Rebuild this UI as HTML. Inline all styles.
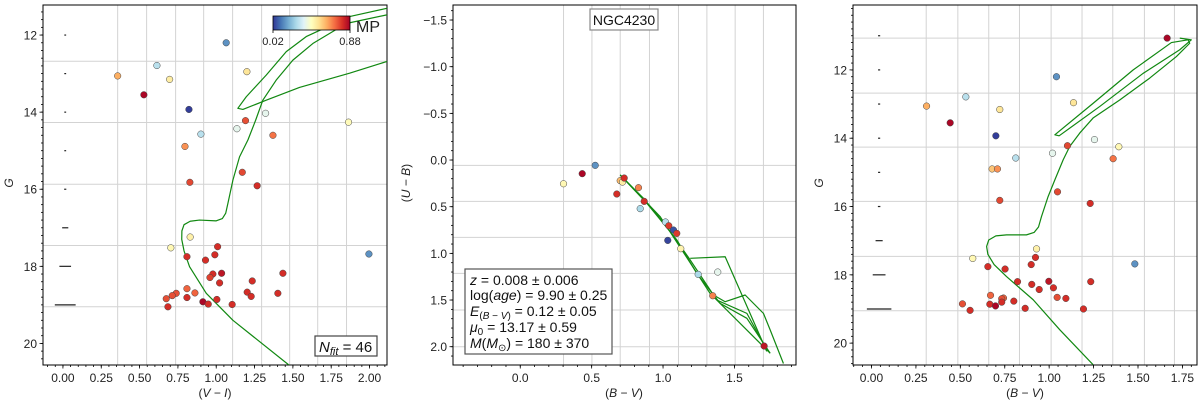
<!DOCTYPE html>
<html><head><meta charset="utf-8">
<style>
html,body{margin:0;padding:0;background:#fff;}
svg{display:block;font-family:"Liberation Sans","DejaVu Sans",sans-serif;}
</style></head>
<body>
<svg id="fig" width="1200" height="403" viewBox="0 0 1200 403" xmlns="http://www.w3.org/2000/svg">
<defs>
<linearGradient id="cmap" x1="0" x2="1" y1="0" y2="0">
<stop offset="0" stop-color="rgb(49,54,149)"/><stop offset="0.1" stop-color="rgb(69,117,180)"/>
<stop offset="0.2" stop-color="rgb(116,173,209)"/><stop offset="0.3" stop-color="rgb(171,217,233)"/>
<stop offset="0.4" stop-color="rgb(224,243,248)"/><stop offset="0.5" stop-color="rgb(255,255,191)"/>
<stop offset="0.6" stop-color="rgb(254,224,144)"/><stop offset="0.7" stop-color="rgb(253,174,97)"/>
<stop offset="0.8" stop-color="rgb(244,109,67)"/><stop offset="0.9" stop-color="rgb(215,48,39)"/>
<stop offset="1" stop-color="rgb(165,0,38)"/>
</linearGradient>
<clipPath id="clip1"><rect x="43" y="5" width="344" height="360"/></clipPath>
<clipPath id="clip2"><rect x="453" y="5" width="343" height="360"/></clipPath>
<clipPath id="clip3"><rect x="853" y="5" width="344" height="360"/></clipPath>
</defs>
</svg>
<script>
// ---------- Panel 1: G vs (V-I) ----------
const p1X = [1.065,0.613,0.357,0.696,1.2,0.528,0.822,1.322,1.191,1.863,1.135,0.9,1.37,0.796,1.17,0.828,1.267,0.83,0.704,1.009,1.996,0.809,0.93,0.991,0.978,1.035,0.959,1.022,1.235,1.435,0.809,0.861,0.739,0.713,0.674,0.809,1.202,1.228,1.402,0.913,0.948,1.004,1.104,0.685];
const p1Y = [12.2,12.79,13.06,13.15,12.95,13.55,13.93,14.03,14.22,14.26,14.43,14.57,14.6,14.89,15.56,15.82,15.91,17.24,17.52,17.49,17.68,17.75,17.84,17.7,18.2,18.18,18.29,18.43,18.38,18.18,18.58,18.69,18.7,18.76,18.84,18.81,18.67,18.78,18.7,18.92,18.98,18.86,18.99,19.05];
const p1MP = [0.15,0.3,0.62,0.5,0.52,0.87,0.03,0.38,0.75,0.46,0.38,0.3,0.7,0.66,0.76,0.76,0.8,0.49,0.47,0.8,0.15,0.8,0.8,0.8,0.8,0.84,0.77,0.8,0.8,0.8,0.72,0.72,0.75,0.75,0.75,0.8,0.8,0.8,0.8,0.87,0.8,0.8,0.8,0.8];
const p1IsoX = [1.474,1.109,0.935,0.826,0.79,0.775,0.776,0.79,0.83,0.891,1.0,1.04,1.062,1.076,1.109,1.152,1.207,1.257,1.304,1.391,1.5,1.63,1.848,2.109,2.3];
const p1IsoY = [20.56,19.4,18.7,18.01,17.6,17.3,17.08,16.92,16.83,16.8,16.82,16.76,16.62,16.37,15.76,15.16,14.72,14.21,13.69,13.17,12.65,12.22,11.7,11.48,11.35];
const p1LoopX = [2.3,2.109,1.87,1.587,1.457,1.326,1.196,1.141,1.174,1.326,1.543,1.87,2.109,2.3];
const p1LoopY = [11.15,11.31,11.52,12.04,12.43,13.04,13.6,13.9,13.93,13.69,13.36,12.99,12.69,12.45];
const p1ErrG = [12,13,14,15,16,17,18,19];
const p1ErrW = [0.006,0.006,0.006,0.006,0.007,0.02,0.038,0.068];
const p1XTicks = [0,0.25,0.5,0.75,1,1.25,1.5,1.75,2];
const p1XTickLabels = ["0.00","0.25","0.50","0.75","1.00","1.25","1.50","1.75","2.00"];
const p1YTicks = [12,14,16,18,20];
const p1YTickLabels = ["12","14","16","18","20"];
const p1GridX = [0.357,0.546,0.735,0.918,1.107,1.296,1.479,1.662,1.85];
const p1GridY = [12.68,14.27,15.87,17.46,19.05];

// ---------- Panel 2: (U-B) vs (B-V) ----------
const p2X = [0.303,0.434,0.525,0.676,0.7,0.716,0.728,0.828,0.868,0.84,1.017,1.04,1.073,1.096,1.033,1.124,1.246,1.383,1.348,1.708];
const p2Y = [0.254,0.146,0.057,0.364,0.221,0.236,0.193,0.296,0.443,0.521,0.664,0.704,0.75,0.786,0.861,0.95,1.225,1.2,1.454,1.993];
const p2MP = [0.47,0.87,0.15,0.8,0.6,0.5,0.8,0.68,0.8,0.28,0.3,0.78,0.06,0.78,0.04,0.48,0.28,0.38,0.68,0.84];
const p2IsoAX = [0.7,0.863,1.027,1.19,1.353,1.435,1.575,1.703,1.75,1.843];
const p2IsoAY = [0.16,0.41,0.715,1.07,1.446,1.518,1.446,1.643,1.82,2.18];
const p2IsoBX = [0.7,0.887,1.097,1.236,1.4,1.587,1.75];
const p2IsoBY = [0.16,0.464,0.857,1.214,1.536,1.696,2.07];
const p2IsoCX = [0.7,0.98,1.33,1.75];
const p2IsoCY = [0.16,0.607,1.43,2.07];
const p2IsoDX = [1.19,1.435,1.726];
const p2IsoDY = [1.053,1.036,2.05];
const p2IsoEX = [1.376,1.587,1.726];
const p2IsoEY = [1.5,1.643,2.03];
const p2XTicks = [0,0.5,1,1.5];
const p2XTickLabels = ["0.0","0.5","1.0","1.5"];
const p2YTicks = [-1.5,-1,-0.5,0,0.5,1,1.5,2];
const p2YTickLabels = ["\u22121.5","\u22121.0","\u22120.5","0.0","0.5","1.0","1.5","2.0"];
const p2GridX = [0.303,0.502,0.7,0.905,1.108,1.307,1.505,1.703];
const p2GridY = [0.057,0.443,0.829,1.214,1.607,2.0];

// ---------- Panel 3: G vs (B-V) ----------
const p3X = [1.664,1.041,0.531,0.31,0.722,1.137,0.443,0.7,1.255,1.103,1.392,1.019,0.812,1.36,0.679,0.709,1.047,0.722,1.231,0.929,0.57,0.923,1.482,0.655,0.752,0.899,0.822,0.998,0.902,1.024,0.944,1.234,0.67,0.743,0.733,1.045,1.094,0.801,0.733,0.512,0.666,0.698,0.865,1.193,0.555];
const p3Y = [11.07,12.2,12.79,13.06,13.16,12.96,13.55,13.93,14.04,14.22,14.25,14.44,14.58,14.6,14.9,14.9,15.57,15.82,15.91,17.24,17.52,17.49,17.68,17.76,17.83,17.7,18.2,18.19,18.28,18.38,18.43,18.2,18.6,18.68,18.7,18.66,18.69,18.77,18.8,18.85,18.86,18.91,18.98,19.0,19.04];
const p3MP = [0.87,0.15,0.3,0.62,0.52,0.52,0.87,0.03,0.38,0.76,0.47,0.38,0.3,0.7,0.58,0.66,0.76,0.76,0.8,0.49,0.47,0.8,0.15,0.8,0.8,0.8,0.8,0.84,0.8,0.8,0.8,0.8,0.72,0.72,0.75,0.75,0.8,0.8,0.8,0.75,0.8,0.87,0.8,0.8,0.8];
const p3IsoX = [1.247,1.06,0.91,0.76,0.69,0.655,0.648,0.66,0.7,0.76,0.872,0.915,0.94,0.957,0.994,1.032,1.079,1.116,1.172,1.247,1.397,1.566,1.716,1.791,1.782,1.688,1.473,1.247,1.032,1.056,1.285,1.529,1.735,1.8,1.735];
const p3IsoY = [20.63,19.61,18.73,18.05,17.7,17.4,17.17,16.98,16.86,16.83,16.83,16.76,16.6,16.29,15.71,15.22,14.63,14.24,13.85,13.41,12.88,12.24,11.61,11.22,11.12,11.2,12.0,12.98,13.9,13.93,13.07,12.1,11.41,11.12,11.07];
const p3ErrG = [11,12,13,14,15,16,17,18,19];
const p3ErrW = [0.006,0.006,0.006,0.006,0.006,0.007,0.02,0.036,0.069];
const p3XTicks = [0,0.25,0.5,0.75,1,1.25,1.5,1.75];
const p3XTickLabels = ["0.00","0.25","0.50","0.75","1.00","1.25","1.50","1.75"];
const p3YTicks = [12,14,16,18,20];
const p3YTickLabels = ["12","14","16","18","20"];
const p3GridX = [0.308,0.486,0.66,0.833,1.011,1.185,1.358,1.536,1.705];
const p3GridY = [11.07,12.68,14.26,15.85,17.46,19.05];

const NS = "http://www.w3.org/2000/svg";
const svg = document.getElementById("fig");
const CM = [[49,54,149],[69,117,180],[116,173,209],[171,217,233],[224,243,248],[255,255,191],[254,224,144],[253,174,97],[244,109,67],[215,48,39],[165,0,38]];
function cmap(v){
  let t=(v-0.02)/0.86; t=Math.max(0,Math.min(1,t))*10;
  const i=Math.min(9,Math.floor(t)), f=t-i, a=CM[i], b=CM[i+1];
  return "rgb("+[0,1,2].map(k=>Math.round(a[k]+(b[k]-a[k])*f)).join(",")+")";
}
function el(tag, attrs, parent){
  const e=document.createElementNS(NS,tag);
  for(const k in attrs) e.setAttribute(k,attrs[k]);
  (parent||svg).appendChild(e); return e;
}
function makeAxes(cfg){
  const sx=v=>cfg.x0+(v-cfg.xmin)/(cfg.xmax-cfg.xmin)*cfg.w;
  const sy=v=>cfg.y0+(v-cfg.ymin)/(cfg.ymax-cfg.ymin)*cfg.h;
  const g=el("g",{});
  
  
  cfg.gridX.forEach(v=>{const l=el("line",{x1:sx(v),x2:sx(v),y1:cfg.y0,y2:cfg.y0+cfg.h,stroke:"#d3d3d3","stroke-width":1},g);
    
    });
  cfg.gridY.forEach(v=>{const l=el("line",{x1:cfg.x0,x2:cfg.x0+cfg.w,y1:sy(v),y2:sy(v),stroke:"#d3d3d3","stroke-width":1},g);
    
    });
  for(let v=Math.ceil(cfg.xmin/cfg.xminor)*cfg.xminor; v<=cfg.xmax; v+=cfg.xminor){
    el("line",{x1:sx(v),x2:sx(v),y1:cfg.y0+cfg.h,y2:cfg.y0+cfg.h+2,stroke:"#000","stroke-width":0.8},g);}
  for(let v=Math.ceil(cfg.ymin/cfg.yminor)*cfg.yminor; v<=cfg.ymax; v+=cfg.yminor){
    el("line",{x1:cfg.x0-2,x2:cfg.x0,y1:sy(v),y2:sy(v),stroke:"#000","stroke-width":0.8},g);}
  cfg.xTicks.forEach((v,i)=>{
    el("line",{x1:sx(v),x2:sx(v),y1:cfg.y0+cfg.h,y2:cfg.y0+cfg.h+3.5,stroke:"#000","stroke-width":0.8},g);
    const t=el("text",{x:sx(v),y:cfg.y0+cfg.h+17,"text-anchor":"middle","font-size":12,fill:"#222"},g);
    t.textContent=cfg.xLabels[i];
    
    
  });
  cfg.yTicks.forEach((v,i)=>{
    el("line",{x1:cfg.x0-3.5,x2:cfg.x0,y1:sy(v),y2:sy(v),stroke:"#000","stroke-width":0.8},g);
    const t=el("text",{x:cfg.x0-6,y:sy(v)+4.5,"text-anchor":"end","font-size":12,fill:"#222"},g);
    t.textContent=cfg.yLabels[i];
    
    
  });
  const fr=el("rect",{x:cfg.x0,y:cfg.y0,width:cfg.w,height:cfg.h,fill:"none",stroke:"#000","stroke-width":1},g);
  
  
  return {sx,sy,g};
}
function line(ax,xs,ys,clip,name){
  const p=el("polyline",{points:xs.map((x,i)=>ax.sx(x)+","+ax.sy(ys[i])).join(" "),fill:"none",stroke:"#118811","stroke-width":1.2,"stroke-linejoin":"round","clip-path":"url(#"+clip+")"},ax.g);
  
  
}
function dots(ax,xs,ys,mp,clip){
  xs.forEach((x,i)=>{
    const c=el("circle",{cx:ax.sx(x),cy:ax.sy(ys[i]),r:3.3,fill:cmap(mp[i]),stroke:"#444","stroke-width":0.5,"clip-path":"url(#"+clip+")"},ax.g);
    
    
  });
}
function errs(ax,gs,ws,xc){
  gs.forEach((gv,i)=>{
    const l=el("line",{x1:ax.sx(xc-ws[i]),x2:ax.sx(xc+ws[i]),y1:ax.sy(gv),y2:ax.sy(gv),stroke:"#222","stroke-width":1.2},ax.g);
    
    
  });
}
function ylabel(x,y,parts,name){
  const t=el("text",{transform:"translate("+x+","+y+") rotate(-90)","text-anchor":"middle","font-size":12,fill:"#222"});
  t.innerHTML=parts;
  
  
}
function xlabel(x,y,parts,name){
  const t=el("text",{x:x,y:y,"text-anchor":"middle","font-size":12,fill:"#222"});
  t.innerHTML=parts;
  
  
}

// Panel 1
const a1=makeAxes({name:"panel-vi",x0:43,y0:5,w:344,h:360,xmin:-0.13,xmax:2.114,ymin:11.22,ymax:20.56,
  gridX:p1GridX,gridY:p1GridY,xTicks:p1XTicks,xLabels:p1XTickLabels,yTicks:p1YTicks,yLabels:p1YTickLabels,xminor:0.05,yminor:0.2});
errs(a1,p1ErrG,p1ErrW,0.015);
line(a1,p1IsoX,p1IsoY,"clip1","isochrone-main");
line(a1,p1LoopX,p1LoopY,"clip1","isochrone-loop");
dots(a1,p1X,p1Y,p1MP,"clip1");
xlabel(215,397,'(<tspan font-style="italic">V</tspan> \u2212 <tspan font-style="italic">I</tspan>)',"x-axis-title-vi");
ylabel(13,183,'<tspan font-style="italic">G</tspan>',"y-axis-title-g");
const cb=el("rect",{x:273,y:16,width:77,height:14,fill:"url(#cmap)",stroke:"#000","stroke-width":0.8});


el("line",{x1:273,x2:273,y1:30,y2:33,stroke:"#000","stroke-width":0.8});
el("line",{x1:350,x2:350,y1:30,y2:33,stroke:"#000","stroke-width":0.8});
let t=el("text",{x:273,y:45,"text-anchor":"middle","font-size":11,fill:"#222"}); t.textContent="0.02";


t=el("text",{x:350,y:45,"text-anchor":"middle","font-size":11,fill:"#222"}); t.textContent="0.88";


t=el("text",{x:356,y:32,"font-size":16,fill:"#222"}); t.textContent="MP";


const nb=el("rect",{x:315,y:336,width:62,height:20,fill:"#fff",stroke:"#444","stroke-width":1.2});


t=el("text",{x:319,y:352,"font-size":15,fill:"#111"});
t.innerHTML='<tspan font-style="italic">N</tspan><tspan font-style="italic" font-size="11" dy="3">fit</tspan><tspan dy="-3"> = 46</tspan>';



// Panel 2
const a2=makeAxes({name:"panel-ub-bv",x0:453,y0:5,w:343,h:360,xmin:-0.471,xmax:1.931,ymin:-1.661,ymax:2.196,
  gridX:p2GridX,gridY:p2GridY,xTicks:p2XTicks,xLabels:p2XTickLabels,yTicks:p2YTicks,yLabels:p2YTickLabels,xminor:0.1,yminor:0.1});
line(a2,p2IsoAX,p2IsoAY,"clip2","isochrone-a");
line(a2,p2IsoBX,p2IsoBY,"clip2","isochrone-b");
line(a2,p2IsoCX,p2IsoCY,"clip2","isochrone-c");
line(a2,p2IsoDX,p2IsoDY,"clip2","isochrone-d");
line(a2,p2IsoEX,p2IsoEY,"clip2","isochrone-e");
dots(a2,p2X,p2Y,p2MP,"clip2");
xlabel(624,397,'(<tspan font-style="italic">B</tspan> \u2212 <tspan font-style="italic">V</tspan>)',"x-axis-title-bv");
ylabel(410,183,'(<tspan font-style="italic">U</tspan> \u2212 <tspan font-style="italic">B</tspan>)',"y-axis-title-ub");
const tb=el("rect",{x:590,y:9,width:68,height:21,fill:"#fff",stroke:"#888","stroke-width":1.2});


t=el("text",{x:624,y:25,"text-anchor":"middle","font-size":14,fill:"#111"}); t.textContent="NGC4230";


const sb=el("rect",{x:465,y:269,width:147,height:85,fill:"#fff",stroke:"#555","stroke-width":1.2});


const statLines=[
 '<tspan font-style="italic">z</tspan> = 0.008 ± 0.006',
 'log(<tspan font-style="italic">age</tspan>) = 9.90 ± 0.25',
 '<tspan font-style="italic">E</tspan><tspan font-size="10" dy="3">(<tspan font-style="italic">B</tspan> − <tspan font-style="italic">V</tspan>)</tspan><tspan dy="-3"> = 0.12 ± 0.05</tspan>',
 '<tspan font-style="italic">μ</tspan><tspan font-size="10" dy="3">0</tspan><tspan dy="-3"> = 13.17 ± 0.59</tspan>',
 '<tspan font-style="italic">M</tspan>(<tspan font-style="italic">M</tspan><tspan font-size="10" dy="3">⊙</tspan><tspan dy="-3">) = 180 ± 370</tspan>'];
const statY=[285,300,316,332,348];
statLines.forEach((s,i)=>{
  const tt=el("text",{x:470,y:statY[i],"font-size":14,fill:"#111"});
  tt.innerHTML=s;
  
  
});

// Panel 3
const a3=makeAxes({name:"panel-g-bv",x0:853,y0:5,w:344,h:360,xmin:-0.104,xmax:1.832,ymin:10.1,ymax:20.64,
  gridX:p3GridX,gridY:p3GridY,xTicks:p3XTicks,xLabels:p3XTickLabels,yTicks:p3YTicks,yLabels:p3YTickLabels,xminor:0.05,yminor:0.2});
errs(a3,p3ErrG,p3ErrW,0.043);
line(a3,p3IsoX,p3IsoY,"clip3","isochrone-main");
dots(a3,p3X,p3Y,p3MP,"clip3");
xlabel(1025,397,'(<tspan font-style="italic">B</tspan> \u2212 <tspan font-style="italic">V</tspan>)',"x-axis-title-bv-2");
ylabel(823,183,'<tspan font-style="italic">G</tspan>',"y-axis-title-g-2");
</script>
</body></html>
